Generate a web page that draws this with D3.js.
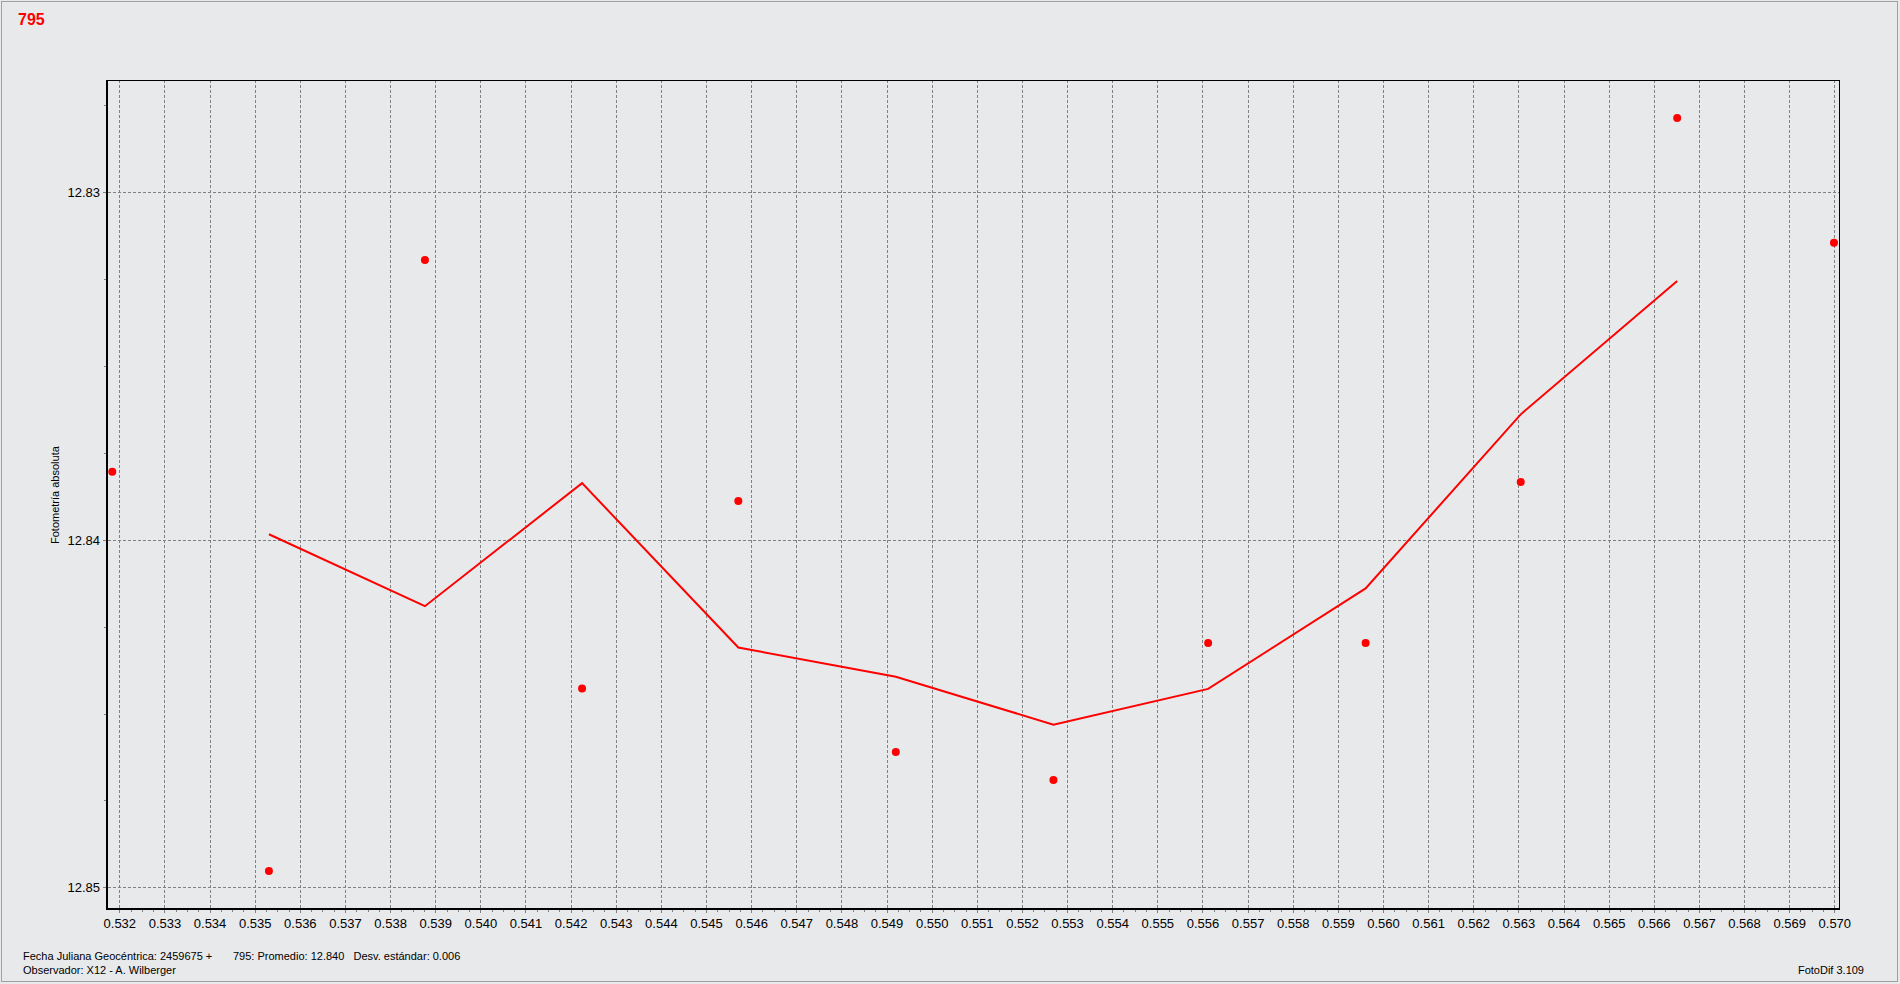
<!DOCTYPE html>
<html>
<head>
<meta charset="utf-8">
<script src="https://cdn.jsdelivr.net/npm/d3@7"></script>
<style>
  html, body { margin: 0; padding: 0; background: #e8e9eb; }
  svg { display: block; }
  text { font-family: "Liberation Sans", Arial, sans-serif; }
</style>
</head>
<body>
<svg id="chart" width="1900" height="984"></svg>
<script>
// ---- data ----
const title = "795";
const yAxisTitle = "Fotometría absoluta";
const footLine1a = "Fecha Juliana Geocéntrica: 2459675 +";
const footLine1b = "795: Promedio: 12.840   Desv. estándar: 0.006";
const footLine2 = "Observador: X12 - A. Wilberger";
const versionText = "FotoDif 3.109";

const pointX = [0.531845, 0.535315, 0.538772, 0.542254, 0.545716, 0.549206, 0.552698, 0.556126, 0.559615, 0.563052, 0.566519, 0.569993];
const pointY = [12.83804, 12.84953, 12.83195, 12.84428, 12.83888, 12.84611, 12.84691, 12.84297, 12.84297, 12.83834, 12.82786, 12.83145];

const lineX = [0.535315, 0.538772, 0.542254, 0.545716, 0.549206, 0.552698, 0.556126, 0.559615, 0.563052, 0.566519];
const lineY = [12.83984, 12.84191, 12.83837, 12.84310, 12.84394, 12.84532, 12.84429, 12.84140, 12.83639, 12.83255];

const xTickLabels = ["0.532","0.533","0.534","0.535","0.536","0.537","0.538","0.539","0.540","0.541",
  "0.542","0.543","0.544","0.545","0.546","0.547","0.548","0.549","0.550","0.551",
  "0.552","0.553","0.554","0.555","0.556","0.557","0.558","0.559","0.560","0.561",
  "0.562","0.563","0.564","0.565","0.566","0.567","0.568","0.569","0.570"];
const yTickLabels = ["12.83", "12.84", "12.85"];
const yMinorTicks = [12.8275, 12.8325, 12.835, 12.8375, 12.8425, 12.845, 12.8475];

// ---- layout ----
const L = 107, R = 1839, T = 80, B = 909;
const x = d3.scaleLinear().domain([0.532, 0.570]).range([119.3, 1834.3]);
const y = d3.scaleLinear().domain([12.83, 12.85]).range([192.3, 887.3]);

const svg = d3.select("#chart");

// background + window border
svg.append("rect").attr("x", 0).attr("y", 0).attr("width", 1900).attr("height", 984).attr("fill", "#e8e9eb");
svg.append("rect").attr("x", 1.5).attr("y", 1.5).attr("width", 1896).attr("height", 980)
  .attr("fill", "none").attr("stroke", "#a0a0a0").attr("stroke-width", 1);

// title
svg.append("text").attr("x", 18).attr("y", 25).attr("fill", "#ff0000")
  .attr("font-size", 16).attr("font-weight", "bold").text(title);

const xTickVals = xTickLabels.map(Number);
const yTickVals = yTickLabels.map(Number);
const xMinor = d3.range(1, 153).map(i => 0.532 + i * 0.00025).filter(v => Math.abs(v * 1000 - Math.round(v * 1000)) > 1e-6 && x(v) < R);

// grid
const grid = svg.append("g").attr("stroke", "#808080").attr("stroke-width", 1).attr("stroke-dasharray", "3,2");
grid.selectAll("line.vx").data(xTickVals).join("line")
  .attr("x1", d => Math.round(x(d)) + 0.5).attr("x2", d => Math.round(x(d)) + 0.5)
  .attr("y1", T).attr("y2", B + 4);
grid.selectAll("line.hy").data(yTickVals).join("line")
  .attr("y1", d => Math.round(y(d)) + 0.5).attr("y2", d => Math.round(y(d)) + 0.5)
  .attr("x1", L - 4).attr("x2", R);

// minor ticks
const ticks = svg.append("g").attr("stroke", "#808080").attr("stroke-width", 1);
ticks.selectAll("line.mx").data(xMinor).join("line")
  .attr("x1", d => Math.round(x(d)) + 0.5).attr("x2", d => Math.round(x(d)) + 0.5)
  .attr("y1", B).attr("y2", B + 3);
ticks.selectAll("line.my").data(yMinorTicks).join("line")
  .attr("y1", d => Math.round(y(d)) + 0.5).attr("y2", d => Math.round(y(d)) + 0.5)
  .attr("x1", L - 3).attr("x2", L);

// frame
svg.append("line").attr("x1", L).attr("x2", R + 0.5).attr("y1", T + 0.5).attr("y2", T + 0.5).attr("stroke", "#000").attr("stroke-width", 1);
svg.append("line").attr("x1", R + 0.5).attr("x2", R + 0.5).attr("y1", T).attr("y2", B).attr("stroke", "#000").attr("stroke-width", 1);
svg.append("line").attr("x1", L).attr("x2", L).attr("y1", T).attr("y2", B + 1).attr("stroke", "#000").attr("stroke-width", 2);
svg.append("line").attr("x1", L - 1).attr("x2", R + 1).attr("y1", B).attr("y2", B).attr("stroke", "#000").attr("stroke-width", 2);

// axes labels via d3 axes
const xAxis = d3.axisBottom(x).tickValues(xTickVals).tickFormat((d, i) => xTickLabels[i]).tickSize(0).tickPadding(0);
const gx = svg.append("g").attr("transform", `translate(0, ${B})`).call(xAxis);
gx.select(".domain").remove();
gx.selectAll("text").attr("font-family", "'Liberation Sans', Arial, sans-serif").attr("font-size", 13)
  .attr("fill", "#000").attr("dy", null).attr("y", 19);

const yAxis = d3.axisLeft(y).tickValues(yTickVals).tickFormat((d, i) => yTickLabels[i]).tickSize(0).tickPadding(0);
const gy = svg.append("g").attr("transform", `translate(100, 0)`).call(yAxis);
gy.select(".domain").remove();
gy.selectAll("text").attr("font-family", "'Liberation Sans', Arial, sans-serif").attr("font-size", 13)
  .attr("fill", "#000").attr("x", 0).attr("dy", "0.36em");

// y axis title
svg.append("text").attr("transform", "translate(58.5, 544) rotate(-90)")
  .attr("font-size", 11).attr("fill", "#000").text(yAxisTitle);

// series line
const line = d3.line().x((d, i) => x(lineX[i])).y(d => y(d));
svg.append("path").datum(lineY).attr("d", line).attr("fill", "none")
  .attr("stroke", "#ff0000").attr("stroke-width", 2).attr("stroke-linejoin", "miter");

// points
svg.append("g").selectAll("circle").data(pointY).join("circle")
  .attr("cx", (d, i) => x(pointX[i])).attr("cy", d => y(d)).attr("r", 4).attr("fill", "#ff0000");

// footer
svg.append("text").attr("x", 23).attr("y", 960).attr("font-size", 11).attr("fill", "#000").text(footLine1a);
svg.append("text").attr("x", 233).attr("y", 960).attr("font-size", 11).attr("fill", "#000").style("white-space", "pre").text(footLine1b);
svg.append("text").attr("x", 23).attr("y", 974).attr("font-size", 11).attr("fill", "#000").text(footLine2);
svg.append("text").attr("x", 1864).attr("y", 974).attr("text-anchor", "end").attr("font-size", 11).attr("fill", "#000").text(versionText);
</script>
</body>
</html>
